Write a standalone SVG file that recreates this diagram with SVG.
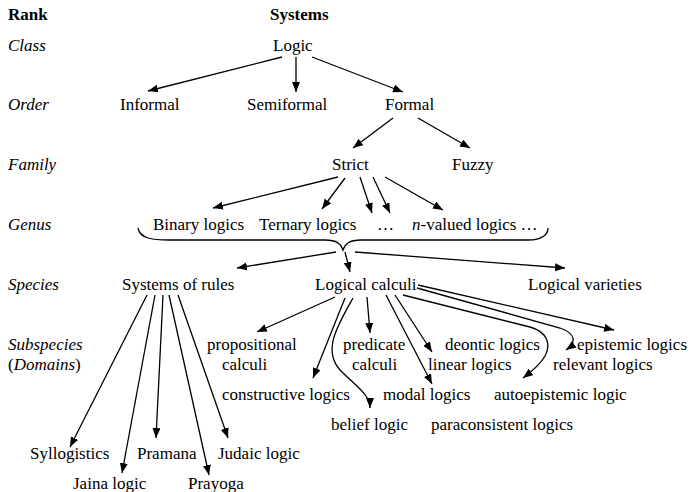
<svg xmlns="http://www.w3.org/2000/svg" width="691" height="492" viewBox="0 0 691 492">
<defs>
<marker id="ah" markerUnits="userSpaceOnUse" markerWidth="11" markerHeight="9" refX="10" refY="4" orient="auto">
<path d="M0,0 L10,4 L0,8 z" fill="#000"/>
</marker>
<style>
.t text{font-size:17px;fill:#000}
.b{font-weight:bold}
.i{font-style:italic}
.c path,.c line{stroke:#000;stroke-width:1.3;fill:none}
.a{marker-end:url(#ah)}
</style>
</defs>
<rect width="691" height="492" fill="#fff"/>
<g class="t" font-family="Liberation Serif, Times New Roman, serif">
<g id="ranks">
<text x="8" y="20" class="b">Rank</text>
<text x="8" y="51" class="i">Class</text>
<text x="8" y="110" class="i">Order</text>
<text x="8" y="170" class="i">Family</text>
<text x="8" y="230" class="i">Genus</text>
<text x="8" y="290" class="i">Species</text>
<text x="8" y="350" class="i">Subspecies</text>
<text x="8" y="370">(<tspan class="i">Domains</tspan>)</text>
</g>
<g id="header"><text x="270" y="20" class="b">Systems</text></g>
<g id="logic"><text x="273" y="51">Logic</text></g>
<g id="informal"><text x="120" y="110">Informal</text></g>
<g id="semiformal"><text x="247" y="110">Semiformal</text></g>
<g id="formal"><text x="385" y="110">Formal</text></g>
<g id="strict"><text x="332" y="170">Strict</text></g>
<g id="fuzzy"><text x="452" y="170">Fuzzy</text></g>
<g id="binary"><text x="153" y="230">Binary logics</text></g>
<g id="ternary"><text x="259" y="230">Ternary logics</text></g>
<g id="dots"><text x="377" y="230">…</text></g>
<g id="nvalued"><text x="412" y="230"><tspan class="i">n</tspan>-valued logics …</text></g>
<g id="rules"><text x="122" y="290">Systems of rules</text></g>
<g id="calculi"><text x="315" y="290">Logical calculi</text></g>
<g id="varieties"><text x="528" y="290">Logical varieties</text></g>
<g id="propositional"><text x="207" y="350">propositional</text><text x="222" y="370">calculi</text></g>
<g id="predicate"><text x="343" y="350">predicate</text><text x="352" y="370">calculi</text></g>
<g id="deontic"><text x="445" y="350">deontic logics</text></g>
<g id="linear"><text x="428" y="370">linear logics</text></g>
<g id="epistemic"><text x="577" y="350">epistemic logics</text></g>
<g id="relevant"><text x="553" y="370">relevant logics</text></g>
<g id="constructive"><text x="222" y="400">constructive logics</text></g>
<g id="modal"><text x="383" y="400">modal logics</text></g>
<g id="autoepistemic"><text x="494" y="400">autoepistemic logic</text></g>
<g id="belief"><text x="331" y="430">belief logic</text></g>
<g id="paraconsistent"><text x="431" y="430">paraconsistent logics</text></g>
<g id="syllogistics"><text x="30" y="459">Syllogistics</text></g>
<g id="pramana"><text x="137" y="459">Pramana</text></g>
<g id="judaic"><text x="218" y="459">Judaic logic</text></g>
<g id="jaina"><text x="73" y="489">Jaina logic</text></g>
<g id="prayoga"><text x="188" y="489">Prayoga</text></g>
</g>
<g id="connectors" class="c">
<line class="a" x1="282" y1="57" x2="148" y2="91"/>
<line class="a" x1="296" y1="57" x2="296" y2="92"/>
<line class="a" x1="312" y1="57" x2="403" y2="92"/>
<line class="a" x1="393" y1="118" x2="353" y2="148"/>
<line class="a" x1="418" y1="118" x2="470" y2="148"/>
<line class="a" x1="338" y1="177" x2="213" y2="208"/>
<line class="a" x1="345" y1="178" x2="322" y2="209"/>
<line class="a" x1="360" y1="177" x2="372" y2="213"/>
<line class="a" x1="373" y1="177" x2="390" y2="213"/>
<line class="a" x1="385" y1="177" x2="443" y2="210"/>
<path d="M138,228 C140,238 150,240 170,240 L325,240 C337,240 341,244 343,250 C345,244 349,240 361,240 L528,240 C543,240 548,234 548,228"/>
<line class="a" x1="336" y1="252" x2="237" y2="268"/>
<line class="a" x1="345" y1="252" x2="350" y2="272"/>
<line class="a" x1="355" y1="252" x2="565" y2="268"/>
<line class="a" x1="147" y1="295" x2="70" y2="447"/>
<line class="a" x1="155" y1="295" x2="122" y2="473"/>
<line class="a" x1="163" y1="295" x2="156" y2="438"/>
<line class="a" x1="169" y1="295" x2="209" y2="475"/>
<line class="a" x1="178" y1="295" x2="228" y2="438"/>
<line class="a" x1="335" y1="297" x2="257" y2="332"/>
<line class="a" x1="345" y1="298" x2="313" y2="378"/>
<path class="a" d="M353,298 C338,325 322,350 340,370 C358,388 370,395 370,408"/>
<line class="a" x1="367" y1="297" x2="370" y2="333"/>
<line class="a" x1="386" y1="295" x2="432" y2="384"/>
<line class="a" x1="395" y1="295" x2="432" y2="352"/>
<path class="a" d="M403,295 L530,327 C548,332 551,345 545,356 C540,365 531,372 523,378"/>
<path class="a" d="M417,288 L560,328 C577,334 576,343 566,350"/>
<line class="a" x1="418" y1="285" x2="614" y2="330"/>
</g>
</svg>
